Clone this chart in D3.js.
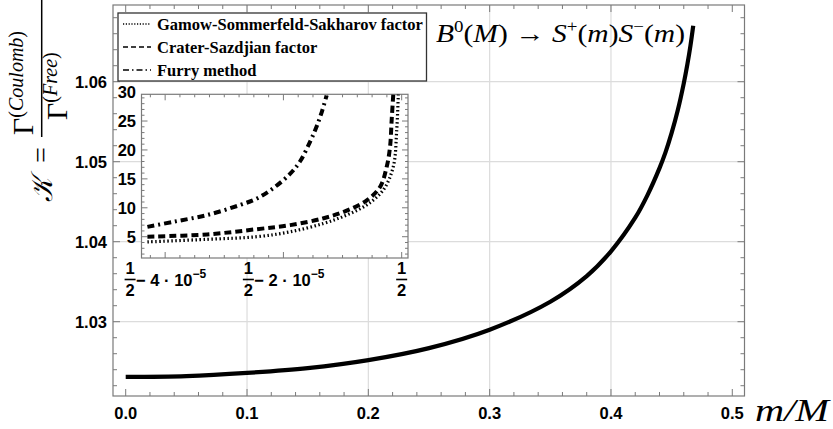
<!DOCTYPE html>
<html><head><meta charset="utf-8">
<script src="https://cdn.jsdelivr.net/npm/d3@7"></script>
<style>
body{margin:0;background:#fff;}
svg{display:block;}
.tk{font-family:"Liberation Sans",Arial,sans-serif;font-weight:bold;font-size:16.5px;fill:#000;}
.lg{font-family:"Liberation Serif","Times New Roman",serif;font-weight:bold;font-size:16.5px;fill:#000;}
.mt{font-family:"Liberation Serif","DejaVu Serif",serif;fill:#000;}
</style></head><body>
<svg id="c" width="833" height="429"></svg>
<script>
// ---- main curve data: m/M and K ----
const ratio = [0, 0.05, 0.1, 0.15, 0.2, 0.25, 0.3, 0.35, 0.38, 0.4, 0.42, 0.43, 0.44, 0.445, 0.45, 0.455, 0.46, 0.463, 0.4655, 0.4678];
const kappa = [1.0231, 1.0232, 1.0236, 1.0242, 1.0252, 1.0267, 1.0290, 1.0325, 1.0357, 1.0388, 1.0430, 1.0458, 1.0492, 1.0512, 1.0536, 1.0564, 1.0598, 1.0622, 1.0645, 1.0670];
const xTicks = [0.0, 0.1, 0.2, 0.3, 0.4, 0.5];
const xTickLabels = ["0.0", "0.1", "0.2", "0.3", "0.4", "0.5"];
const yTicks = [1.03, 1.04, 1.05, 1.06];
const yTickLabels = ["1.03", "1.04", "1.05", "1.06"];

// ---- inset data: offset below 1/2 in units of 1e-5 ----
const furryOffset = [4.30, 3.85, 3.29, 2.73, 2.45, 2.17, 1.885, 1.72, 1.55, 1.44, 1.35, 1.27];
const furryK      = [6.7, 7.6, 8.75, 10.5, 11.6, 13.4, 15.9, 18.0, 21.4, 24.0, 26.6, 29.4];
const craterOffset = [4.30, 3.29, 2.45, 1.885, 1.32, 0.93, 0.59, 0.366, 0.253, 0.197, 0.169, 0.142];
const craterK      = [5.0, 5.4, 6.3, 7.0, 8.2, 9.5, 11.3, 13.6, 17.1, 20.5, 25.2, 29.6];
const gamowOffset = [4.30, 3.29, 2.45, 1.885, 1.32, 0.93, 0.59, 0.31, 0.142, 0.084, 0.057];
const gamowK      = [4.1, 4.55, 5.0, 5.85, 7.3, 8.75, 10.5, 13.1, 17.1, 23.4, 29.6];
const insetXTicks = [4, 2, 0];
const insetYTicks = [5, 10, 15, 20, 25, 30];
const seriesNames = ["Gamow-Sommerfeld-Sakharov factor", "Crater-Sazdjian factor", "Furry method"];

const svg = d3.select("#c");
const frameCol = "#7a7a7a", gridCol = "#dcdcdc";

// main scales
const x = d3.scaleLinear().domain([-0.01047, 0.51006]).range([113, 744.5]);
const y = d3.scaleLinear().domain([1.020713, 1.069588]).range([396, 5]);

// grid
svg.append("g").selectAll("line").data(xTicks.filter(v => v > 0 && v < 0.5)).join("line")
  .attr("x1", d => x(d)).attr("x2", d => x(d)).attr("y1", y.range()[0]).attr("y2", y.range()[1])
  .attr("stroke", gridCol).attr("stroke-width", 1.2);
svg.append("g").selectAll("line").data(yTicks).join("line")
  .attr("y1", d => y(d)).attr("y2", d => y(d)).attr("x1", x.range()[0]).attr("x2", x.range()[1])
  .attr("stroke", gridCol).attr("stroke-width", 1.2);

// frame with inward ticks
function frame(g, xs, ys, xMaj, xMin, yMaj, yMin, majL, minL) {
  const [x0, x1] = xs.range(), [y0, y1] = ys.range();
  g.append("rect").attr("x", x0).attr("y", y1).attr("width", x1 - x0).attr("height", y0 - y1)
    .attr("fill", "none").attr("stroke", frameCol).attr("stroke-width", 1.2);
  const tk = (arr, len) => {
    arr.forEach(v => {
      const px = xs(v);
      g.append("line").attr("x1", px).attr("x2", px).attr("y1", y0).attr("y2", y0 - len).attr("stroke", frameCol);
      g.append("line").attr("x1", px).attr("x2", px).attr("y1", y1).attr("y2", y1 + len).attr("stroke", frameCol);
    });
  };
  const tky = (arr, len) => {
    arr.forEach(v => {
      const py = ys(v);
      g.append("line").attr("y1", py).attr("y2", py).attr("x1", x0).attr("x2", x0 + len).attr("stroke", frameCol);
      g.append("line").attr("y1", py).attr("y2", py).attr("x1", x1).attr("x2", x1 - len).attr("stroke", frameCol);
    });
  };
  tk(xMaj, majL); tk(xMin, minL); tky(yMaj, majL); tky(yMin, minL);
}
const xMinor = d3.range(-0.00, 0.5001, 0.02).filter(v => !xTicks.some(t => Math.abs(t - v) < 1e-6));
const yMinor = d3.range(1.022, 1.0691, 0.002).filter(v => !yTicks.some(t => Math.abs(t - v) < 1e-6));
frame(svg.append("g"), x, y, xTicks, xMinor, yTicks, yMinor, 7, 4);

// tick labels
svg.append("g").selectAll("text").data(xTicks).join("text").attr("class", "tk")
  .attr("x", d => x(d)).attr("y", 419).attr("text-anchor", "middle").text((d, i) => xTickLabels[i]);
svg.append("g").selectAll("text").data(yTicks).join("text").attr("class", "tk")
  .attr("x", 107).attr("y", d => y(d) + 6).attr("text-anchor", "end").text((d, i) => yTickLabels[i]);

// main curve
const mainData = ratio.map((r, i) => [r, kappa[i]]);
svg.append("path").datum(mainData)
  .attr("d", d3.line().x(d => x(d[0])).y(d => y(d[1])).curve(d3.curveCatmullRom.alpha(0.5)))
  .attr("fill", "none").attr("stroke", "#000").attr("stroke-width", 4.2);

// axis label m/M
svg.append("text").attr("class", "mt").attr("x", 755).attr("y", 421)
  .attr("font-size", 31).attr("font-style", "italic")
  .attr("textLength", 74).attr("lengthAdjust", "spacingAndGlyphs").text("m/M");

// y label (rotated): screen = (40 + ry, 215 - rx)
const yl = svg.append("g").attr("transform", "translate(40,215) rotate(-90)");
yl.append("text").attr("class", "mt").attr("x", 13).attr("y", 12).attr("font-size", 30)
  .attr("font-style", "italic").attr("textLength", 24).attr("lengthAdjust", "spacingAndGlyphs").text("𝒦");
yl.append("text").attr("class", "mt").attr("x", 52).attr("y", 10).attr("font-size", 28).text("=");
yl.append("line").attr("x1", 78).attr("x2", 216).attr("y1", 1.7).attr("y2", 1.7).attr("stroke", "#000").attr("stroke-width", 1.5);
const num = yl.append("text").attr("class", "mt").attr("x", 80).attr("y", -7).attr("font-size", 30);
num.append("tspan").text("Γ");
num.append("tspan").attr("font-size", 20).attr("dy", -10).text("(");
num.append("tspan").attr("font-size", 20).attr("font-style", "italic").text("Coulomb");
num.append("tspan").attr("font-size", 20).text(")");
const den = yl.append("text").attr("class", "mt").attr("x", 95).attr("y", 27).attr("font-size", 30);
den.append("tspan").text("Γ");
den.append("tspan").attr("font-size", 20).attr("dy", -10).text("(");
den.append("tspan").attr("font-size", 20).attr("font-style", "italic").text("Free");
den.append("tspan").attr("font-size", 20).text(")");

// legend
const lg = svg.append("g");
lg.append("rect").attr("x", 118).attr("y", 13).attr("width", 308.5).attr("height", 68)
  .attr("fill", "#fff").attr("stroke", "#333").attr("stroke-width", 1.3);
const dashes = ["1.2,1.6", "5,3", "6,3,1.5,3"];
seriesNames.forEach((n, i) => {
  const cy = 24 + i * 23;
  lg.append("line").attr("x1", 123).attr("x2", 151).attr("y1", cy).attr("y2", cy)
    .attr("stroke", "#000").attr("stroke-width", 1.6).attr("stroke-dasharray", dashes[i]);
  lg.append("text").attr("class", "lg").attr("x", 157).attr("y", cy + 5.5).text(n);
});

// annotation
const an = svg.append("text").attr("class", "mt").attr("x", 436).attr("y", 42).attr("font-size", 25)
  .attr("textLength", 249).attr("lengthAdjust", "spacingAndGlyphs");
an.append("tspan").attr("font-style", "italic").text("B");
an.append("tspan").attr("font-size", 16).attr("dy", -10).text("0");
an.append("tspan").attr("dy", 10).text("(");
an.append("tspan").attr("font-style", "italic").text("M");
an.append("tspan").text(") → ");
an.append("tspan").attr("font-style", "italic").text("S");
an.append("tspan").attr("font-size", 16).attr("dy", -10).text("+");
an.append("tspan").attr("dy", 10).text("(");
an.append("tspan").attr("font-style", "italic").text("m");
an.append("tspan").text(")");
an.append("tspan").attr("font-style", "italic").text("S");
an.append("tspan").attr("font-size", 16).attr("dy", -10).text("−");
an.append("tspan").attr("dy", 10).text("(");
an.append("tspan").attr("font-style", "italic").text("m");
an.append("tspan").text(")");

// ---- inset ----
const ix = d3.scaleLinear().domain([4.4, -0.107]).range([141.5, 408]);
const iy = d3.scaleLinear().domain([1.32, 29.62]).range([258, 94.3]);
const ig = svg.append("g");
ig.append("rect").attr("x", 141.5).attr("y", 94.3).attr("width", 266.5).attr("height", 163.7).attr("fill", "#fff");
const ixMinor = d3.range(0, 4.41, 0.25).filter(v => !insetXTicks.includes(v));
const iyMinor = d3.range(2, 29.6, 1).filter(v => !insetYTicks.includes(v));
frame(ig, ix, iy, insetXTicks, ixMinor, insetYTicks.filter(v => v < 29.7), iyMinor, 6, 3);

const clipId = "iclip";
svg.append("clipPath").attr("id", clipId).append("rect").attr("x", 141.5).attr("y", 94.3).attr("width", 266.5).attr("height", 163.7);
const series = [
  [gamowOffset, gamowK, "1.5,2.5", 3.2],
  [craterOffset, craterK, "7,4", 4],
  [furryOffset, furryK, "7,4,2,4", 4]
];
series.forEach(([xo, kv, da, w]) => {
  const pts = xo.map((u, i) => [u, kv[i]]).sort((a, b) => b[0] - a[0]);
  ig.append("path").datum(pts).attr("clip-path", `url(#${clipId})`)
    .attr("d", d3.line().x(d => ix(d[0])).y(d => iy(d[1])).curve(d3.curveCatmullRom.alpha(0.5)))
    .attr("fill", "none").attr("stroke", "#000").attr("stroke-width", w).attr("stroke-dasharray", da);
});

ig.selectAll("text.iy").data(insetYTicks).join("text").attr("class", "tk")
  .attr("x", 136).attr("y", d => iy(d) + 6).attr("text-anchor", "end").text(d => d);

// inset x labels: fractions, centered on tick
insetXTicks.forEach(u => {
  const px = ix(u);
  const g = ig.append("g");
  const frac = (fx) => {
    g.append("text").attr("class", "tk").attr("x", fx).attr("y", 274).attr("text-anchor", "middle").text("1");
    g.append("line").attr("x1", fx - 5.5).attr("x2", fx + 5.5).attr("y1", 279.5).attr("y2", 279.5).attr("stroke", "#000").attr("stroke-width", 1.6);
    g.append("text").attr("class", "tk").attr("x", fx).attr("y", 296).attr("text-anchor", "middle").text("2");
  };
  if (u === 0) {
    frac(px);
  } else {
    const t = g.append("text").attr("class", "tk").attr("y", 286);
    t.append("tspan").text(" − " + u + " · 10");
    t.append("tspan").attr("font-size", 12).attr("dy", -8).text("−5");
    const w = t.node().getComputedTextLength();
    const total = 12 + w;
    const left = px - total / 2;
    frac(left + 6);
    t.attr("x", left + 12);
  }
});
</script>
</body></html>
